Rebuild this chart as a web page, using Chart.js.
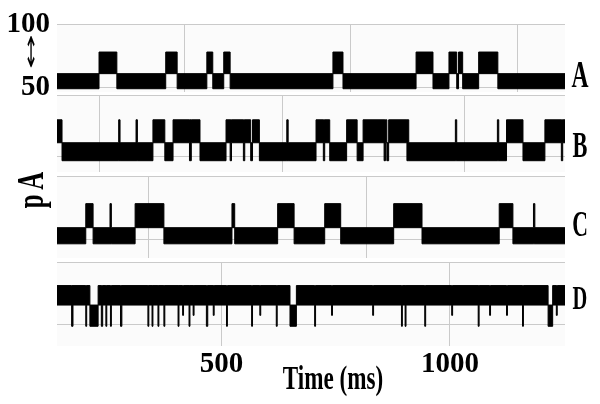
<!DOCTYPE html>
<html lang="en">
<head>
<meta charset="UTF-8">
<title>Single channel recordings</title>
<script src="https://cdn.jsdelivr.net/npm/chart.js"></script>
<style>
    body {
        margin: 0;
        background: #fff;
    }
    #wrap {
        position: relative;
        width: 600px;
        height: 404px;
        overflow: hidden;
        font-family: "Liberation Serif", "DejaVu Serif", serif;
        font-weight: bold;
        color: #000;
    }
    #wrap canvas {
        position: absolute;
        left: 0;
        top: 0;
    }
    .lbl {
        position: absolute;
        line-height: 1;
        white-space: nowrap;
        transform: translate(-50%, -50%) scaleX(0.62);
    }
    #yTitle {
        transform: translate(-50%, -50%) rotate(-90deg) scaleX(0.65);
    }
    #arrow {
        font-family: "DejaVu Sans", sans-serif;
        font-weight: normal;
        transform: translate(-50%, -50%) scaleX(0.4);
    }
</style>
</head>
<body>
<div id="wrap">
    <canvas id="panelA" width="600" height="404"></canvas>
    <canvas id="panelB" width="600" height="404"></canvas>
    <canvas id="panelC" width="600" height="404"></canvas>
    <canvas id="panelD" width="600" height="404"></canvas>

    <div class="lbl" id="arrow" style="left:31px; top:53px; font-size:42px;">↕</div>
    <div class="lbl" id="yTitle" style="left:30px; top:190px; font-size:38px;">p A</div>
    <div class="lbl" style="left:333px; top:378px; font-size:34px; transform:translate(-50%,-50%) scaleX(0.68);">Time (ms)</div>
    <div class="lbl" style="left:580px; top:74px; font-size:38px;">A</div>
    <div class="lbl" style="left:580px; top:145px; font-size:36px;">B</div>
    <div class="lbl" style="left:580px; top:224px; font-size:35px;">C</div>
    <div class="lbl" style="left:580px; top:298px; font-size:33px;">D</div>
</div>
<script>
    const timeMin = 140;
    const timeMax = 1252;

    // tick labels
    const timeTicks = [500, 1000];
    const currentTicks = [50, 100];

    // each trace: segment start times (ms) and the state that follows
    // state 0 = closed, 1 = open, 2 = brief full swing (spike), 3 = partial dip
    const traceAStart = [140, 232, 271, 378, 403, 468, 481, 505, 519, 744, 766, 926, 963, 998, 1015, 1019, 1028, 1063, 1105];
    const traceAState = [0, 1, 0, 1, 0, 1, 0, 1, 0, 1, 0, 1, 0, 1, 0, 1, 0, 1, 0];
    const traceAClosed = [48.8, 60.8];   // pA band, low / high
    const traceAOpen = [60.8, 78];
    const traceAGrid = [418, 782, 1148];

    const traceBStart = [140, 151, 275, 278, 313, 316, 350, 376, 394, 430, 434, 453, 510, 519, 522, 548, 551, 564,
        568, 583, 643, 646, 707, 723, 726, 737, 774, 797, 810, 856, 859, 862, 866, 906, 910, 1012, 1015, 1104, 1107,
        1124, 1160, 1208, 1244, 1247];
    const traceBState = [1, 0, 2, 0, 2, 0, 1, 0, 1, 2, 1, 0, 1, 2, 1, 2, 1, 0,
        1, 0, 2, 0, 1, 2, 1, 0, 1, 0, 1, 2, 1, 0, 1, 2, 0, 2, 0, 2, 0,
        1, 0, 1, 2, 1];
    const traceBClosed = [47, 61.5];
    const traceBOpen = [61.5, 80];
    const traceBGrid = [232, 633, 1033];

    const traceCStart = [140, 203, 219, 256, 259, 311, 374, 523, 529, 623, 659, 726, 761, 877, 939, 1108, 1138, 1183, 1186];
    const traceCState = [0, 1, 0, 2, 0, 1, 0, 1, 0, 1, 0, 1, 0, 1, 0, 1, 0, 2, 0];
    const traceCClosed = [47, 59.6];
    const traceCOpen = [59.6, 78.4];
    const traceCGrid = [340, 818];

    const traceDStart = [140, 172, 175, 203, 205, 212, 230, 237, 240, 247, 249, 257, 259, 279, 282, 339, 341, 348,
        350, 361, 363, 374, 376, 405, 407, 415, 417, 429, 431, 438, 440, 467, 470, 482, 484, 511, 513, 566, 568,
        584, 586, 620, 622, 650, 664, 704, 706, 741, 743, 831, 833, 894, 896, 902, 904, 945, 947, 1004, 1006,
        1062, 1064, 1087, 1089, 1124, 1126, 1159, 1161, 1215, 1225, 1233, 1235];
    const traceDState = [1, 2, 1, 2, 1, 0, 1, 2, 1, 2, 1, 2, 1, 2, 1, 2, 1, 2,
        1, 2, 1, 2, 1, 2, 1, 3, 1, 2, 1, 3, 1, 2, 1, 3, 1, 2, 1, 2, 1,
        3, 1, 2, 1, 0, 1, 2, 1, 3, 1, 3, 1, 2, 1, 2, 1, 2, 1, 3, 1,
        2, 1, 3, 1, 3, 1, 2, 1, 0, 1, 3, 1];
    const traceDClosed = [48.2, 65.3];
    const traceDOpen = [65.3, 81];
    const traceDPartial = [57, 81];
    const traceDGrid = [500, 1000];

    const serif = '"Liberation Serif", "DejaVu Serif", serif';

    const areaBackground = {
        id: 'areaBackground',
        beforeDraw(chart) {
            const { ctx, chartArea: a } = chart;
            ctx.save();
            ctx.fillStyle = '#fbfbfb';
            ctx.fillRect(a.left, a.top, a.right - a.left, a.bottom - a.top);
            ctx.restore();
        }
    };

    function drawPanel(id, starts, states, closed, open, partial, grid, yMin, top, bottom, isFirst, isLast) {
        const band = s => s === 0 ? closed : s === 1 ? open : s === 3 ? partial : [closed[0], open[1]];
        const upper = starts.map((t, i) => ({ x: t, y: band(states[i])[1] }));
        const lower = starts.map((t, i) => ({ x: t, y: band(states[i])[0] }));
        const last = states[states.length - 1];
        upper.push({ x: timeMax, y: band(last)[1] });
        lower.push({ x: timeMax, y: band(last)[0] });

        new Chart(document.getElementById(id), {
            type: 'line',
            data: {
                datasets: [{
                    data: upper,
                    stepped: true,
                    borderColor: '#000',
                    borderWidth: 1,
                    pointRadius: 0,
                    fill: false
                }, {
                    data: lower,
                    stepped: true,
                    borderColor: '#000',
                    borderWidth: 1,
                    pointRadius: 0,
                    backgroundColor: '#000',
                    fill: '-1'
                }]
            },
            options: {
                responsive: false,
                animation: false,
                devicePixelRatio: 1,
                events: [],
                layout: {
                    padding: { top: top, bottom: isLast ? 0 : 404 - bottom, left: 0, right: 35 }
                },
                plugins: {
                    legend: { display: false },
                    tooltip: { enabled: false }
                },
                scales: {
                    x: {
                        type: 'linear',
                        min: timeMin,
                        max: timeMax,
                        afterBuildTicks: scale => { scale.ticks = grid.map(v => ({ value: v })); },
                        afterFit: scale => { scale.height = isLast ? 404 - bottom : 0; },
                        grid: { color: '#cacaca', drawTicks: false },
                        border: { display: false },
                        ticks: {
                            display: isLast,
                            padding: 1,
                            color: '#000',
                            callback: v => String(v),
                            font: { family: serif, size: 29, weight: 'bold' }
                        }
                    },
                    y: {
                        min: yMin,
                        max: 100,
                        afterBuildTicks: scale => { scale.ticks = currentTicks.map(v => ({ value: v })); },
                        afterFit: scale => { scale.width = 57; },
                        grid: { color: '#cacaca', drawTicks: false },
                        border: { display: false },
                        ticks: {
                            display: isFirst,
                            padding: 7,
                            color: '#000',
                            callback: v => String(v),
                            font: { family: serif, size: 29, weight: 'bold' }
                        }
                    }
                }
            },
            plugins: [areaBackground]
        });
    }

    drawPanel('panelA', traceAStart, traceAState, traceAClosed, traceAOpen, traceAOpen, traceAGrid, 46.2, 22, 92, true, false);
    drawPanel('panelB', traceBStart, traceBState, traceBClosed, traceBOpen, traceBOpen, traceBGrid, 37.9, 95, 172, false, false);
    drawPanel('panelC', traceCStart, traceCState, traceCClosed, traceCOpen, traceCOpen, traceCGrid, 35.9, 176, 258, false, false);
    drawPanel('panelD', traceDStart, traceDState, traceDClosed, traceDOpen, traceDPartial, traceDGrid, 32.3, 262, 346, false, true);
</script>
</body>
</html>
